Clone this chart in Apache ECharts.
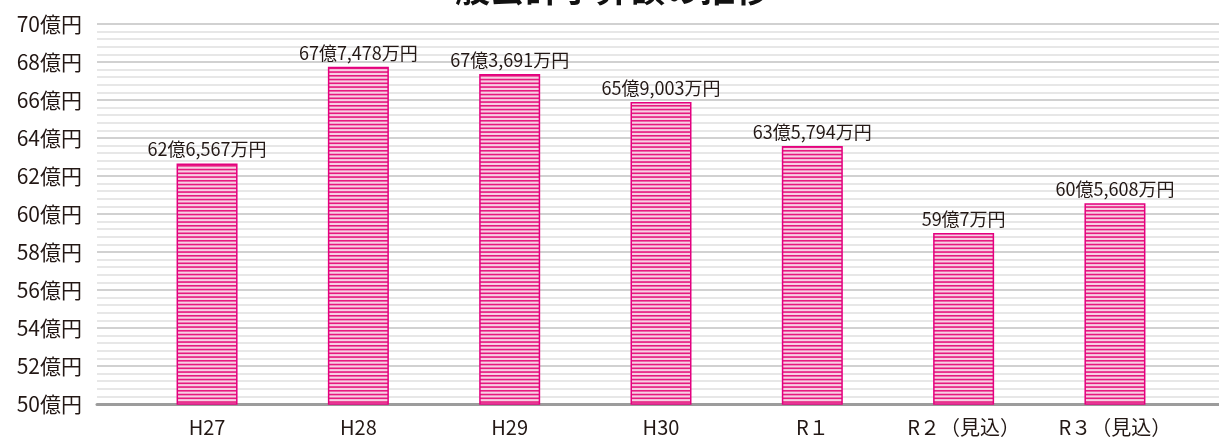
<!DOCTYPE html>
<html>
<head>
<meta charset="utf-8">
<script src="https://cdn.jsdelivr.net/npm/echarts@6/dist/echarts.min.js"></script>
<style>
  html, body { margin: 0; padding: 0; background: #fff; }
  #chart { width: 1219px; height: 440px; }
</style>
</head>
<body>
<div id="chart"></div>
<script>
  // data (unit: 億円)
  const titleText = '一般会計予算額の推移';
  const categories = ['H27', 'H28', 'H29', 'H30', 'R１', 'R２（見込）', 'R３（見込）'];
  const amounts = [62.6567, 67.7478, 67.3691, 65.9003, 63.5794, 59.0007, 60.5608];
  const yMin = 50;
  const yMax = 70;
  const yStep = 2;

  const font = '"Noto Sans CJK JP", "Noto Sans", sans-serif';
  const textColor = '#231815';

  // 62.6567 -> 62億6,567万円
  function okuMan(v) {
    let oku = Math.floor(v);
    let man = Math.round((v - oku) * 10000);
    return oku + '億' + man.toLocaleString('en-US') + '万円';
  }

  // horizontal stripe fill for the bars
  function stripes() {
    let c = document.createElement('canvas');
    c.width = 4;
    c.height = 15;
    let ctx = c.getContext('2d');
    ctx.fillStyle = '#f7cfe3';
    ctx.fillRect(0, 0, 4, 15);
    ctx.fillStyle = '#e6197f';
    for (let k = 0; k < 4; k++) {
      ctx.fillRect(0, k * 3.75, 4, 1.6);
    }
    return c;
  }

  const chart = echarts.init(document.getElementById('chart'));

  let option = {
    animation: false,
    backgroundColor: '#fff',
    graphic: [{
      type: 'text',
      left: 420,
      top: -29,
      style: {
        text: titleText,
        font: 'bold 35px ' + font,
        fill: '#111'
      }
    }],
    grid: [
      { left: 97, right: 0, top: 24, bottom: 36 },
      { left: 131.4, right: 28.4, top: 24, bottom: 36 }
    ],
    xAxis: [
      {
        type: 'category',
        gridIndex: 0,
        data: [''],
        axisLine: { show: true, lineStyle: { color: '#9c9c9c', width: 3 } },
        axisTick: { show: false },
        axisLabel: { show: false }
      },
      {
        type: 'category',
        gridIndex: 1,
        data: categories,
        axisLine: { show: false },
        axisTick: { show: false },
        axisLabel: { fontSize: 20, fontFamily: font, color: textColor, margin: 13 }
      }
    ],
    yAxis: [
      {
        type: 'value',
        gridIndex: 0,
        min: yMin,
        max: yMax,
        interval: yStep,
        axisLine: { show: false },
        axisTick: { show: false },
        axisLabel: {
          formatter: '{value}億円',
          fontSize: 21,
          fontFamily: font,
          color: textColor,
          margin: 15
        },
        splitLine: { lineStyle: { color: '#c2c2c2', width: 1.5 } },
        minorTick: { show: false, splitNumber: 5 },
        minorSplitLine: { show: true, lineStyle: { color: '#e0e0e0', width: 1.5 } }
      },
      {
        type: 'value',
        gridIndex: 1,
        min: yMin,
        max: yMax,
        interval: yStep,
        show: false,
        splitLine: { show: false }
      }
    ],
    series: [
      {
        type: 'bar',
        xAxisIndex: 1,
        yAxisIndex: 1,
        data: amounts,
        barWidth: 61,
        itemStyle: {
          color: { image: stripes(), repeat: 'repeat' },
          borderColor: '#e4007f',
          borderWidth: 1.5
        },
        label: {
          show: true,
          position: 'top',
          distance: 5,
          fontSize: 18,
          fontFamily: font,
          color: textColor,
          formatter: (p) => okuMan(p.value)
        }
      }
    ]
  };

  chart.setOption(option);
</script>
</body>
</html>
